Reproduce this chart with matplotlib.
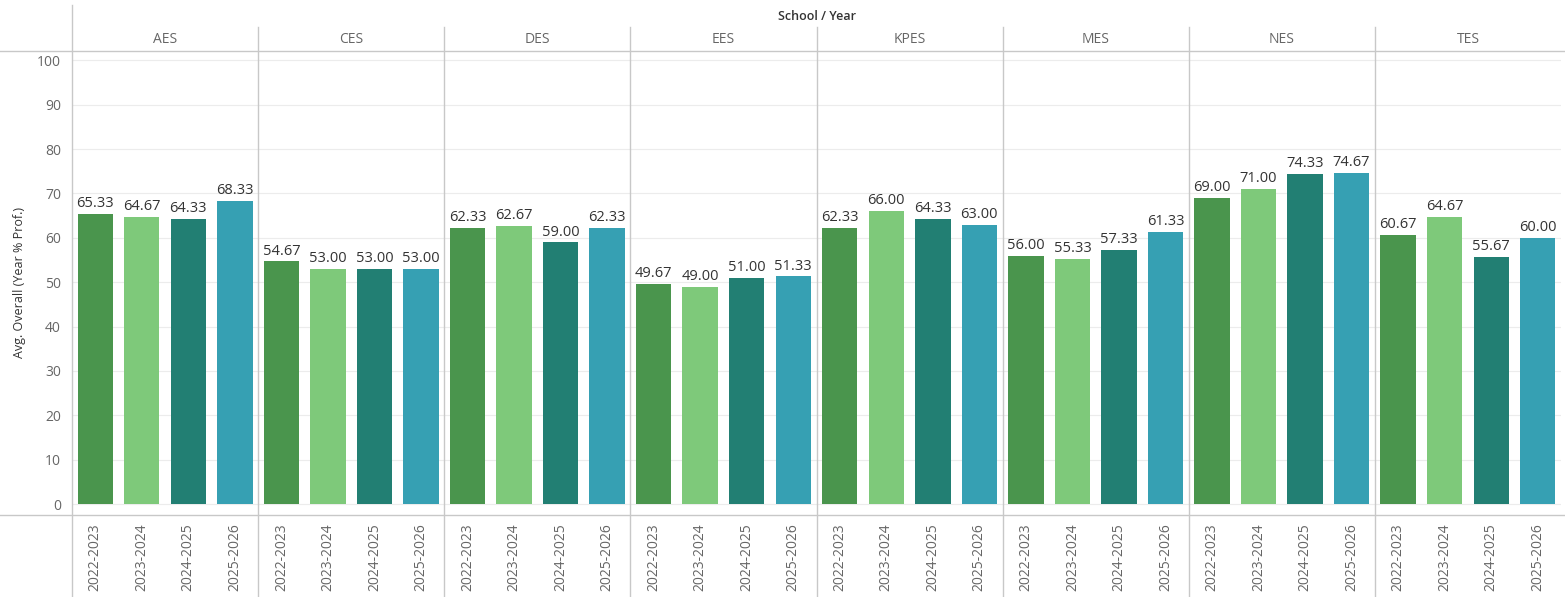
import matplotlib.pyplot as plt
import numpy as np

plt.rcParams['font.family'] = ['Open Sans', 'DejaVu Sans']

# data
schools = ['AES', 'CES', 'DES', 'EES', 'KPES', 'MES', 'NES', 'TES']
years = ['2022-2023', '2023-2024', '2024-2025', '2025-2026']
values = {
    'AES': [65.33, 64.67, 64.33, 68.33],
    'CES': [54.67, 53.00, 53.00, 53.00],
    'DES': [62.33, 62.67, 59.00, 62.33],
    'EES': [49.67, 49.00, 51.00, 51.33],
    'KPES': [62.33, 66.00, 64.33, 63.00],
    'MES': [56.00, 55.33, 57.33, 61.33],
    'NES': [69.00, 71.00, 74.33, 74.67],
    'TES': [60.67, 64.67, 55.67, 60.00],
}
year_colors = ['#4a954d', '#7ec97a', '#227f73', '#36a0b3']
yticks = list(range(0, 101, 10))

W, H = 1565, 597
fig = plt.figure(figsize=(W / 100, H / 100), dpi=100)
ax = fig.add_axes([72 / W, 1 - 515 / H, (1561 - 72) / W, (515 - 51) / H])

line_col = '#c8c8c8'
n = len(years)
for i, s in enumerate(schools):
    for j, v in enumerate(values[s]):
        x = i * n + j
        ax.bar(x, v, width=0.76, color=year_colors[j], zorder=2)
        ax.annotate(f'{v:.2f}', (x, v), xytext=(0, 2), textcoords='offset points',
                    ha='center', va='bottom', fontsize=10.5, color='#333333')
    # facet header
    ax.text(i * n + (n - 1) / 2, 1.024, s, transform=ax.get_xaxis_transform(),
            ha='center', va='center', fontsize=10, color='#666666')
    # facet divider
    if i > 0:
        ax.plot([i * n - 0.5] * 2, [-0.18, 1.052], transform=ax.get_xaxis_transform(),
                color=line_col, lw=1, clip_on=False, zorder=3)

ax.set_xlim(-0.5, len(schools) * n - 0.5)
ax.set_ylim(-2.45, 102.1)
ax.set_xticks(np.arange(len(schools) * n))
ax.set_xticklabels(years * len(schools), rotation=90, fontsize=10, color='#666666')
ax.set_yticks(yticks)
ax.set_yticklabels([str(t) for t in yticks], fontsize=10, color='#666666')
ax.tick_params(axis='both', length=0)
ax.tick_params(axis='y', pad=8)
ax.tick_params(axis='x', pad=6)
ax.grid(axis='y', color='#ececec', lw=0.8, zorder=0)

for sp in ax.spines.values():
    sp.set_visible(False)

# frame lines like tableau
fig.add_artist(plt.Line2D([0, 1], [1 - 51 / H, 1 - 51 / H], color=line_col, lw=1))
fig.add_artist(plt.Line2D([0, 1], [1 - 515 / H, 1 - 515 / H], color=line_col, lw=1))
fig.add_artist(plt.Line2D([72 / W, 72 / W], [0, 1 - 5 / H], color=line_col, lw=1))

ax.set_ylabel('Avg. Overall (Year % Prof.)', fontsize=9, color='#333333')
ax.yaxis.set_label_coords(-46 / (1561 - 72), 0.5)
ax.text(0.5, 1.075, 'School / Year', transform=ax.transAxes, ha='center', va='center',
        fontsize=9, color='#333333', fontweight='semibold')

fig.savefig('out.png', dpi=100, facecolor='white')
